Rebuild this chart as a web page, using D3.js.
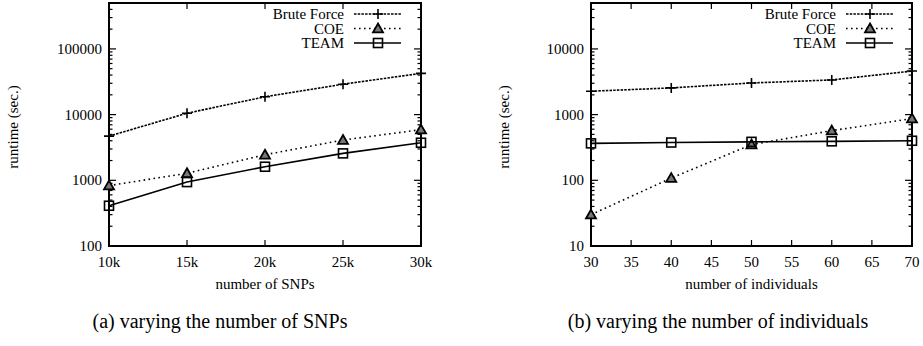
<!DOCTYPE html>
<html><head><meta charset="utf-8">
<script src="https://cdn.jsdelivr.net/npm/d3@7"></script>
<style>
body{margin:0;background:#fff;}
text{font-family:"Liberation Serif","Times New Roman",serif;fill:#000;}
</style></head>
<body><svg id="c" width="923" height="346"></svg>
<script>
// ---- data ----
const seriesNames = ["Brute Force","COE","TEAM"];
// (a) varying the number of SNPs
const snps = [10000,15000,20000,25000,30000];
const snpTickLabels = ["10k","15k","20k","25k","30k"];
const snpBrute = [4700,10500,18700,29000,42500];
const snpCOE = [830,1280,2450,4100,5900];
const snpTEAM = [410,940,1610,2570,3730];
const snpYTicks = [100,1000,10000,100000];
// (b) varying the number of individuals
const indiv = [30,40,50,60,70];
const indivXTicks = [30,35,40,45,50,55,60,65,70];
const indivBrute = [2270,2550,3030,3370,4600];
const indivCOE = [30,108,350,570,870];
const indivTEAM = [365,376,385,392,400];
const indivYTicks = [10,100,1000,10000];

const svg = d3.select("#c");
const styles = [
  {dash:"2.5,1.2", marker:"plus"},
  {dash:"1.6,3.4", marker:"tri"},
  {dash:null, marker:"sq"}
];

function marker(g, type, x, y){
  if(type==="plus"){
    g.append("path").attr("d",`M${x-5},${y}H${x+5}M${x},${y-5}V${y+5}`)
      .attr("stroke","#000").attr("stroke-width",1.6).attr("fill","none");
  } else if(type==="tri"){
    g.append("path").attr("d",`M${x},${y-5}L${x+5},${y+3.8}L${x-5},${y+3.8}Z`)
      .attr("stroke","#000").attr("stroke-width",1.8).attr("fill","#777").attr("stroke-linejoin","miter");
  } else {
    g.append("rect").attr("x",x-4.5).attr("y",y-4.5).attr("width",9).attr("height",9)
      .attr("stroke","#000").attr("stroke-width",1.6).attr("fill","none");
  }
}

function panel(opt){
  const g = svg.append("g");
  const x = opt.xScale, y = opt.yScale;
  const [x0,x1] = x.range(), [y0,y1] = y.range();
  // minor log ticks
  const [d0,d1] = y.domain();
  const minor = [];
  for(let p=Math.floor(Math.log10(d0)); p<=Math.ceil(Math.log10(d1)); p++){
    for(let m=1;m<10;m++){
      const v = m*Math.pow(10,p);
      if(v>=d0 && v<=d1) minor.push({v, major:m===1});
    }
  }
  minor.forEach(t=>{
    const len = t.major?7:3.5;
    g.append("line").attr("x1",x0).attr("x2",x0+len).attr("y1",y(t.v)).attr("y2",y(t.v)).attr("stroke","#000").attr("stroke-width",1.2);
    g.append("line").attr("x1",x1).attr("x2",x1-len).attr("y1",y(t.v)).attr("y2",y(t.v)).attr("stroke","#000").attr("stroke-width",1.2);
  });
  opt.xTicks.forEach(v=>{
    g.append("line").attr("x1",x(v)).attr("x2",x(v)).attr("y1",y0).attr("y2",y0-6).attr("stroke","#000").attr("stroke-width",1.2);
    g.append("line").attr("x1",x(v)).attr("x2",x(v)).attr("y1",y1).attr("y2",y1+6).attr("stroke","#000").attr("stroke-width",1.2);
  });
  // frame
  g.append("rect").attr("x",x0).attr("y",y1).attr("width",x1-x0).attr("height",y0-y1)
    .attr("fill","none").attr("stroke","#000").attr("stroke-width",2);
  // tick labels
  opt.yTicks.forEach(v=>{
    g.append("text").attr("x",x0-7).attr("y",y(v)+5).attr("text-anchor","end").attr("font-size",15).text(v);
  });
  opt.xTicks.forEach((v,i)=>{
    g.append("text").attr("x",x(v)).attr("y",y0+21).attr("text-anchor","middle").attr("font-size",15).text(opt.xTickLabels[i]);
  });
  // axis titles
  g.append("text").attr("x",(x0+x1)/2).attr("y",y0+43).attr("text-anchor","middle").attr("font-size",15).text(opt.xTitle);
  g.append("text").attr("transform",`translate(${opt.yTitleX},127) rotate(-90)`).attr("text-anchor","middle").attr("font-size",15).text("runtime (sec.)");
  // series
  opt.series.forEach((s,k)=>{
    const line = d3.line().x((d,i)=>x(opt.xs[i])).y(d=>y(d));
    const p = g.append("path").datum(s).attr("d",line).attr("fill","none").attr("stroke","#000").attr("stroke-width",1.6);
    if(styles[k].dash) p.attr("stroke-dasharray",styles[k].dash);
    s.forEach((v,i)=>marker(g,styles[k].marker,x(opt.xs[i]),y(v)));
  });
  // legend
  seriesNames.forEach((n,k)=>{
    const ly = 14 + k*14.5;
    g.append("text").attr("x",opt.legX).attr("y",ly+5).attr("text-anchor","end").attr("font-size",15).text(n);
    const l = g.append("line").attr("x1",opt.legX+10).attr("x2",opt.legX+57).attr("y1",ly).attr("y2",ly).attr("stroke","#000").attr("stroke-width",1.6);
    if(styles[k].dash) l.attr("stroke-dasharray",styles[k].dash);
    marker(g,styles[k].marker,opt.legX+34,ly);
  });
  // caption
  g.append("text").attr("x",opt.capX).attr("y",328).attr("text-anchor","middle").attr("font-size",20).text(opt.caption);
}

panel({
  xScale: d3.scaleLinear().domain([10000,30000]).range([109,421]),
  yScale: d3.scaleLog().domain([100,500000]).range([246,3]),
  xs: snps, xTicks: snps, xTickLabels: snpTickLabels, yTicks: snpYTicks,
  series:[snpBrute,snpCOE,snpTEAM],
  xTitle:"number of SNPs", yTitleX:18, legX:344, capX:220,
  caption:"(a) varying the number of SNPs"
});
panel({
  xScale: d3.scaleLinear().domain([30,70]).range([591,912]),
  yScale: d3.scaleLog().domain([10,50000]).range([246,3]),
  xs: indiv, xTicks: indivXTicks, xTickLabels: indivXTicks.map(String), yTicks: indivYTicks,
  series:[indivBrute,indivCOE,indivTEAM],
  xTitle:"number of individuals", yTitleX:509, legX:836, capX:718,
  caption:"(b) varying the number of individuals"
});
</script></body></html>
